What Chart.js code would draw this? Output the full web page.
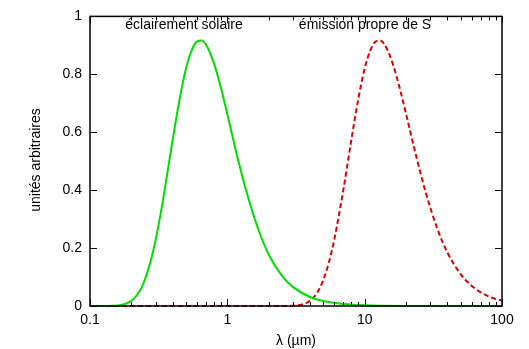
<!DOCTYPE html>
<html><head><meta charset="utf-8">
<script src="https://cdn.jsdelivr.net/npm/chart.js@4/dist/chart.umd.min.js"></script>
<style>html,body{margin:0;padding:0;background:#fff}#w{width:529px;height:349px}</style>
</head><body><div id="w"><canvas id="c" width="529" height="349"></canvas></div>
<script>
// Solar illumination (green, solid)
const solarLambda = [0.1, 0.12, 0.14, 0.16, 0.18, 0.2, 0.22, 0.24, 0.26, 0.28, 0.3, 0.33, 0.36, 0.4, 0.45, 0.5, 0.55, 0.6, 0.65, 0.7, 0.8, 0.9, 1.0, 1.2, 1.4, 1.7, 2.0, 2.5, 3.0, 4.0, 5.0, 7.0, 10, 20, 50, 100];
const solarValues = [0, 0, 0.0004, 0.002, 0.007, 0.018, 0.038, 0.068, 0.112, 0.165, 0.226, 0.33, 0.438, 0.574, 0.716, 0.82, 0.883, 0.913, 0.917, 0.902, 0.837, 0.752, 0.662, 0.503, 0.383, 0.258, 0.178, 0.104, 0.066, 0.031, 0.017, 0.007, 0.0025, 0.0003, 0, 0];
// Own emission of S (red, dashed)
const emisLambda = [0.1, 1, 2, 2.5, 3, 3.5, 4, 4.5, 5, 5.5, 6, 7, 8, 9, 10, 11, 12, 13, 14, 16, 18, 20, 24, 28, 34, 40, 50, 60, 70, 80, 90, 100];
const emisValues = [0, 0, 0, 0.0001, 0.001, 0.005, 0.018, 0.045, 0.09, 0.152, 0.228, 0.402, 0.574, 0.716, 0.82, 0.883, 0.913, 0.917, 0.902, 0.837, 0.752, 0.664, 0.508, 0.388, 0.264, 0.185, 0.11, 0.07, 0.047, 0.033, 0.024, 0.019];
const xTickValues = [0.1, 1, 10, 100];
const xTickLabels = ['0.1', '1', '10', '100'];
const yTickValues = [0, 0.2, 0.4, 0.6, 0.8, 1];
const yTickLabels = ['0', '0.2', '0.4', '0.6', '0.8', '1'];
const seriesNames = ['éclairement solaire', 'émission propre de S'];
const xTitle = 'λ (µm)';
const yTitle = 'unités arbitraires';

const FONT = '"Liberation Sans", Arial, Helvetica, sans-serif';

const framePlugin = {
  id: 'frame',
  afterDraw(chart) {
    const {ctx, chartArea: a, scales} = chart;
    const xs = scales.x, ys = scales.y;
    ctx.save();
    ctx.strokeStyle = '#000';
    ctx.lineWidth = 1.5;
    ctx.strokeRect(a.left, a.top, a.right - a.left, a.bottom - a.top);
    ctx.lineWidth = 1;
    ctx.beginPath();
    xTickValues.forEach(v => {
      const px = Math.round(xs.getPixelForValue(v)) + 0.5;
      ctx.moveTo(px, a.bottom); ctx.lineTo(px, a.bottom - 7);
      ctx.moveTo(px, a.top); ctx.lineTo(px, a.top + 7);
    });
    [0.1, 1, 10].forEach(d => {
      for (let k = 2; k <= 9; k++) {
        const px = Math.round(xs.getPixelForValue(d * k)) + 0.5;
        ctx.moveTo(px, a.bottom); ctx.lineTo(px, a.bottom - 4);
        ctx.moveTo(px, a.top); ctx.lineTo(px, a.top + 4);
      }
    });
    yTickValues.forEach(v => {
      const py = Math.round(ys.getPixelForValue(v)) + 0.5;
      ctx.moveTo(a.left, py); ctx.lineTo(a.left + 7, py);
      ctx.moveTo(a.right, py); ctx.lineTo(a.right - 7, py);
    });
    ctx.stroke();

    ctx.fillStyle = '#000';
    ctx.font = '14px ' + FONT;
    ctx.textAlign = 'center';
    ctx.textBaseline = 'middle';
    ctx.fillText(seriesNames[0], 184, 25);
    ctx.fillText(seriesNames[1], 365, 25);
    ctx.fillText(xTitle, 296, 341);
    ctx.translate(36, 160);
    ctx.rotate(-Math.PI / 2);
    ctx.fillText(yTitle, 0, 0);
    ctx.restore();
  }
};

new Chart(document.getElementById('c'), {
  type: 'line',
  data: {
    datasets: [
      {
        label: seriesNames[0],
        data: solarLambda.map((l, i) => ({x: l, y: solarValues[i]})),
        borderColor: '#00dd00',
        borderWidth: 2,
        pointRadius: 0,
        cubicInterpolationMode: 'monotone',
        fill: false,
        clip: 4
      },
      {
        label: seriesNames[1],
        data: emisLambda.map((l, i) => ({x: l, y: emisValues[i]})),
        borderColor: '#dd0000',
        borderWidth: 2,
        borderDash: [5, 3],
        pointRadius: 0,
        cubicInterpolationMode: 'monotone',
        fill: false,
        clip: 4
      }
    ]
  },
  options: {
    responsive: false,
    animation: false,
    devicePixelRatio: 1,
    layout: {padding: {left: 0, right: 27, top: 14, bottom: 0}},
    plugins: {legend: {display: false}, tooltip: {enabled: false}},
    scales: {
      x: {
        type: 'logarithmic',
        min: 0.1, max: 100,
        grid: {display: false, drawTicks: false},
        border: {display: false},
        afterBuildTicks: s => { s.ticks = xTickValues.map(v => ({value: v})); },
        afterFit: s => { s.height = 43; },
        ticks: {
          autoSkip: false, maxRotation: 0, padding: 6,
          color: '#000', font: {family: FONT, size: 14},
          callback: (v) => xTickLabels[xTickValues.findIndex(t => Math.abs(t - v) < 1e-9 * Math.max(1, t))] ?? ''
        }
      },
      y: {
        type: 'linear',
        min: 0, max: 1,
        grid: {display: false, drawTicks: false},
        border: {display: false},
        afterBuildTicks: s => { s.ticks = yTickValues.map(v => ({value: v})); },
        afterFit: s => { s.width = 90; },
        ticks: {
          autoSkip: false, padding: 8,
          color: '#000', font: {family: FONT, size: 14},
          callback: (v) => yTickLabels[yTickValues.findIndex(t => Math.abs(t - v) < 1e-9)] ?? ''
        }
      }
    }
  },
  plugins: [framePlugin]
});
</script>
</body></html>
